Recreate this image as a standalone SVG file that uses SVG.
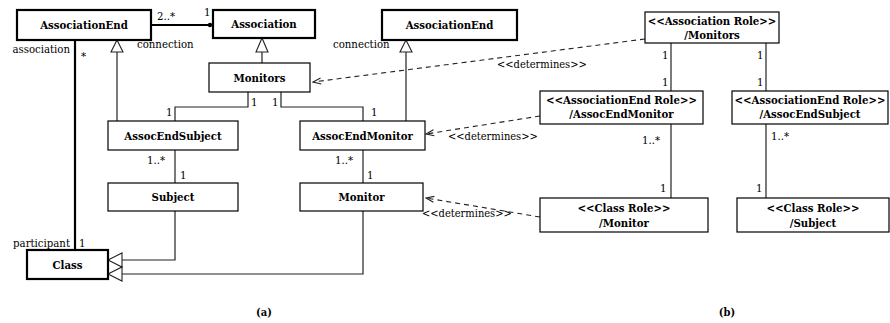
<svg xmlns="http://www.w3.org/2000/svg" width="890" height="323" viewBox="0 0 890 323">
<style>
text{font-family:'DejaVu Serif Condensed','DejaVu Serif',serif;fill:#000}
.box{fill:#fff;stroke:#000;stroke-width:1.2}
.thick{fill:#fff;stroke:#000;stroke-width:2.2}
.n{font-weight:bold;font-size:11.3px;text-anchor:middle}
.l{font-size:11.3px}
.d{font-size:11px}
.ln{fill:none;stroke:#222;stroke-width:1.2}
.tk{fill:none;stroke:#000;stroke-width:2.2}
.dash{fill:none;stroke:#222;stroke-width:1.1;stroke-dasharray:5,4}
.tri{fill:#fff;stroke:#222;stroke-width:1.1}
.cap{font-weight:bold;font-size:11px;text-anchor:middle}
</style>
<defs>
<marker id="open" markerWidth="10" markerHeight="10" refX="9" refY="5" orient="auto" markerUnits="userSpaceOnUse">
<path d="M1,2 L9,5 L1,8" fill="none" stroke="#222" stroke-width="1.1"/>
</marker>
</defs>
<g id="connectors">
<line class="tk" x1="151" y1="25" x2="210" y2="25"/>
<circle cx="210" cy="25" r="2.2" fill="#000"/>
<line class="tk" x1="75" y1="40" x2="75" y2="250"/>
<line class="ln" x1="117" y1="52" x2="117" y2="121"/>
<polygon class="tri" points="117,40 111,52 123,52"/>
<line class="ln" x1="262" y1="52" x2="262" y2="63"/>
<polygon class="tri" points="262,38 256,52 268,52"/>
<line class="ln" x1="406" y1="52" x2="406" y2="121"/>
<polygon class="tri" points="406,40 400,52 412,52"/>
<polyline class="ln" points="248,92 248,107 175,107 175,121"/>
<polyline class="ln" points="281,92 281,107 363,107 363,121"/>
<line class="ln" x1="175" y1="150" x2="175" y2="183"/>
<line class="ln" x1="363" y1="150" x2="363" y2="183"/>
<polyline class="ln" points="175,211 175,260 122,260"/>
<polygon class="tri" points="108,260 122,253 122,267"/>
<polyline class="ln" points="363,211 363,274 122,274"/>
<polygon class="tri" points="108,274 122,267 122,281"/>
<line class="ln" x1="671" y1="43" x2="671" y2="91"/>
<line class="ln" x1="766" y1="43" x2="766" y2="91"/>
<line class="ln" x1="671" y1="124" x2="671" y2="198"/>
<line class="ln" x1="766" y1="124" x2="766" y2="198"/>
<line class="dash" x1="645" y1="39" x2="313" y2="82" marker-end="url(#open)"/>
<line class="dash" x1="540" y1="116" x2="426" y2="134" marker-end="url(#open)"/>
<line class="dash" x1="540" y1="217" x2="426" y2="198" marker-end="url(#open)"/>
</g>
<g id="labels">
<text class="l" x="70" y="53" text-anchor="end">association</text>
<text class="l" x="81" y="60">*</text>
<text class="l" x="157" y="20">2..*</text>
<text class="l" x="204" y="16">1</text>
<text class="l" x="137" y="48">connection</text>
<text class="l" x="333" y="48">connection</text>
<text class="l" x="251" y="106">1</text>
<text class="l" x="272" y="106">1</text>
<text class="l" x="166" y="116">1</text>
<text class="l" x="371" y="116">1</text>
<text class="l" x="147" y="164">1..*</text>
<text class="l" x="180" y="179">1</text>
<text class="l" x="335" y="164">1..*</text>
<text class="l" x="367" y="179">1</text>
<text class="l" x="70" y="247" text-anchor="end">participant</text>
<text class="l" x="79" y="247">1</text>
<text class="l" x="662" y="59">1</text>
<text class="l" x="662" y="86">1</text>
<text class="l" x="757" y="59">1</text>
<text class="l" x="757" y="86">1</text>
<text class="l" x="642" y="144">1..*</text>
<text class="l" x="771" y="140">1..*</text>
<text class="l" x="660" y="192">1</text>
<text class="l" x="756" y="192">1</text>
<text class="d" x="497" y="68">&lt;&lt;determines&gt;&gt;</text>
<text class="d" x="448" y="140">&lt;&lt;determines&gt;&gt;</text>
<text class="d" x="422" y="217">&lt;&lt;determines&gt;&gt;</text>
<text class="cap" x="264" y="316">(a)</text>
<text class="cap" x="727" y="316">(b)</text>
</g>
<g id="AssociationEnd1"><rect class="thick" x="17" y="10" width="134" height="30"/><text class="n" x="84" y="29">AssociationEnd</text></g>
<g id="Association"><rect class="thick" x="213" y="10" width="102" height="28"/><text class="n" x="264" y="28">Association</text></g>
<g id="AssociationEnd2"><rect class="thick" x="382" y="10" width="135" height="30"/><text class="n" x="449.5" y="29">AssociationEnd</text></g>
<g id="Monitors"><rect class="box" x="209" y="63" width="101" height="29"/><text class="n" x="259.5" y="82">Monitors</text></g>
<g id="AssocEndSubject"><rect class="box" x="108" y="121" width="130" height="29"/><text class="n" x="173" y="140">AssocEndSubject</text></g>
<g id="AssocEndMonitor"><rect class="box" x="300" y="121" width="125" height="29"/><text class="n" x="362.5" y="140">AssocEndMonitor</text></g>
<g id="Subject"><rect class="box" x="108" y="183" width="130" height="28"/><text class="n" x="173" y="201">Subject</text></g>
<g id="Monitor"><rect class="box" x="300" y="183" width="123" height="28"/><text class="n" x="361.5" y="201">Monitor</text></g>
<g id="Class"><rect class="thick" x="27" y="250" width="81" height="29"/><text class="n" x="67.5" y="269">Class</text></g>
<g id="AssociationRoleMonitors"><rect class="box" x="645" y="12" width="134" height="31"/><text class="n" x="712" y="25">&lt;&lt;Association Role&gt;&gt;</text><text class="n" x="712" y="39">/Monitors</text></g>
<g id="AssocEndRoleMonitor"><rect class="box" x="540" y="91" width="163" height="33"/><text class="n" x="621.5" y="104">&lt;&lt;AssociationEnd Role&gt;&gt;</text><text class="n" x="621.5" y="118">/AssocEndMonitor</text></g>
<g id="AssocEndRoleSubject"><rect class="box" x="732" y="91" width="156" height="33"/><text class="n" x="810" y="104">&lt;&lt;AssociationEnd Role&gt;&gt;</text><text class="n" x="810" y="118">/AssocEndSubject</text></g>
<g id="ClassRoleMonitor"><rect class="box" x="540" y="198" width="168" height="34"/><text class="n" x="624" y="212">&lt;&lt;Class Role&gt;&gt;</text><text class="n" x="624" y="227">/Monitor</text></g>
<g id="ClassRoleSubject"><rect class="box" x="737" y="198" width="152" height="34"/><text class="n" x="813" y="212">&lt;&lt;Class Role&gt;&gt;</text><text class="n" x="813" y="227">/Subject</text></g>
</svg>
